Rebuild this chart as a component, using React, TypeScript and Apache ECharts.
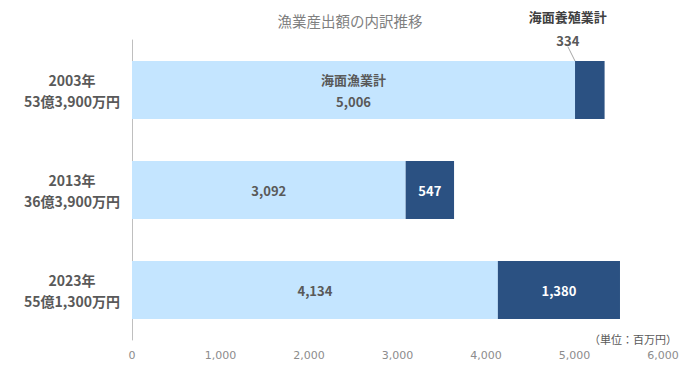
import React, { useEffect, useRef } from "react";
import * as echarts from "echarts";

const years = ["2003年", "2013年", "2023年"];
const totals = ["53億3,900万円", "36億3,900万円", "55億1,300万円"];
const fishing = [5006, 3092, 4134];
const aquaculture = [334, 547, 1380];
const xTicks = [0, 1000, 2000, 3000, 4000, 5000, 6000];
const fishingName = "海面漁業計";
const aquaName = "海面養殖業計";
const title = "漁業産出額の内訳推移";
const unit = "（単位：百万円）";

const FONT = "'Noto Sans CJK JP', 'Noto Sans', sans-serif";
const TICKFONT = "'DejaVu Sans', 'Noto Sans CJK JP', sans-serif";
const fmt = (v: number) => v.toLocaleString("en-US");

export default function App() {
  const ref = useRef<HTMLDivElement>(null);
  useEffect(() => {
    const chart = echarts.init(ref.current!, undefined, { renderer: "svg" });
    const cats = years.map((y, i) => `${y}\n${totals[i]}`);
    chart.setOption({
      animation: false,
      backgroundColor: "#ffffff",
      textStyle: { fontFamily: FONT },
      title: {
        text: title,
        left: 345,
        textAlign: "center",
        top: 8,
        textStyle: { fontFamily: FONT, fontSize: 14.5, fontWeight: "normal", color: "#7f7f7f" },
      },
      grid: { left: 132, right: 27, top: 40, bottom: 27, containLabel: false },
      xAxis: {
        type: "value",
        min: xTicks[0],
        max: xTicks[xTicks.length - 1],
        interval: 1000,
        axisLine: { show: false },
        axisTick: { show: false },
        splitLine: { show: false },
        axisLabel: {
          color: "#8c8c8c",
          fontSize: 11,
          fontFamily: TICKFONT,
          margin: 10,
          formatter: (v: number) => fmt(v),
        },
      },
      yAxis: {
        type: "category",
        data: cats,
        inverse: true,
        axisLine: { show: true, lineStyle: { color: "#bfbfbf", width: 1 } },
        axisTick: { show: false },
        axisLabel: {
          color: "#595959",
          fontSize: 14,
          fontWeight: "bold",
          fontFamily: FONT,
          lineHeight: 21,
          align: "center",
          margin: 60,
        },
      },
      series: [
        {
          name: fishingName,
          type: "bar",
          stack: "total",
          barWidth: 58,
          data: fishing,
          itemStyle: { color: "#c4e5ff" },
          label: {
            show: true,
            position: "inside",
            fontFamily: FONT,
            fontSize: 13,
            fontWeight: "bold",
            color: "#595959",
            formatter: (p: any) =>
              p.dataIndex === 0
                ? `{n|${fishingName}}\n{v|${fmt(p.value)}}`
                : `{v|${fmt(p.value)}}`,
            rich: {
              n: { fontFamily: FONT, fontSize: 13, fontWeight: "bold", color: "#595959", lineHeight: 22 },
              v: { fontFamily: FONT, fontSize: 13, fontWeight: "bold", color: "#595959", lineHeight: 22 },
            },
          },
        },
        {
          name: aquaName,
          type: "bar",
          stack: "total",
          barWidth: 58,
          data: aquaculture.map((v, i) =>
            i === 0
              ? {
                  value: v,
                  label: {
                    position: "top",
                    color: "#595959",
                    formatter: (p: any) => `{n|${aquaName}}\n{v|${fmt(p.value)}}`,
                  },
                  labelLine: { show: true, lineStyle: { color: "#a6a6a6", width: 1 } },
                }
              : v
          ),
          itemStyle: { color: "#2b5182" },
          labelLayout: (params: any) =>
            params.dataIndex === 0 ? { dx: -22, dy: -4 } : {},
          labelLine: { show: false },
          label: {
            show: true,
            position: "inside",
            fontFamily: FONT,
            fontSize: 13,
            fontWeight: "bold",
            color: "#ffffff",
            formatter: (p: any) => fmt(p.value),
            rich: {
              n: { fontFamily: FONT, fontSize: 13, fontWeight: "bold", color: "#404040", lineHeight: 24 },
              v: { fontFamily: FONT, fontSize: 13, fontWeight: "bold", color: "#595959", lineHeight: 24 },
            },
          },
        },
      ],
      graphic: [
        {
          type: "text",
          right: 13,
          top: 333,
          style: { text: unit, font: `11px ${FONT}`, fill: "#595959" },
        },
      ],
    });
    return () => chart.dispose();
  }, []);
  return (
    <div
      ref={ref}
      style={{ position: "fixed", left: 0, top: 0, width: 690, height: 367 }}
    />
  );
}
